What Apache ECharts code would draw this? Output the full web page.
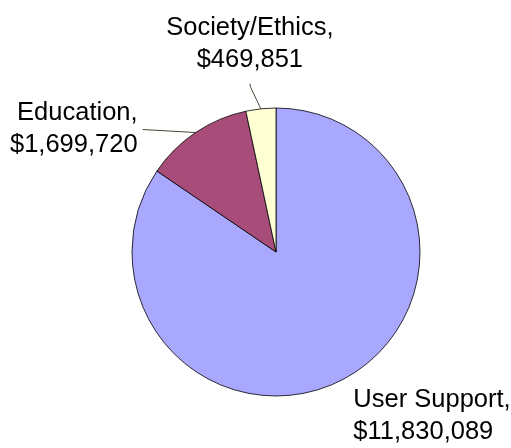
<!DOCTYPE html>
<html>
<head>
<meta charset="utf-8">
<script src="https://cdn.jsdelivr.net/npm/echarts@6/dist/echarts.min.js"></script>
<style>
  html, body { margin: 0; padding: 0; background: #fff; }
  #chart { width: 511px; height: 448px; }
</style>
</head>
<body>
<div id="chart"></div>
<script>
// Funding by area (US dollars)
const categories = ['User Support', 'Education', 'Society/Ethics'];
const amounts = [11830089, 1699720, 469851];

const sliceColors = ['#A7A8FE', '#A84C79', '#FFFFD4'];

// Where each label sits relative to the point where its leader leaves the slice edge
const labelPlacement = [
  { dx: 10, dy: 37, align: 'left', verticalAlign: 'middle', line: [] },
  { dx: -58, dy: -4, align: 'right', verticalAlign: 'middle', line: [[-53, -3]] },
  { dx: -11, dy: -33, align: 'center', verticalAlign: 'bottom', line: [[-10, -21], [-11, -25]] }
];

function money(v) {
  return '$' + v.toLocaleString('en-US');
}

const chart = echarts.init(document.getElementById('chart'), null, { renderer: 'canvas' });

chart.setOption({
  backgroundColor: '#ffffff',
  animation: false,
  series: [{
    type: 'pie',
    center: [276, 252],
    radius: 144,
    startAngle: 90,
    clockwise: true,
    avoidLabelOverlap: false,
    itemStyle: { borderColor: '#000', borderWidth: 0.8 },
    label: {
      show: true,
      position: 'outside',
      fontFamily: 'Liberation Sans, Arial, sans-serif',
      fontSize: 25.5,
      lineHeight: 32,
      color: '#000',
      formatter: p => p.name + ',\n' + money(p.value)
    },
    labelLine: {
      show: true,
      length: 10,
      length2: 10,
      smooth: false,
      lineStyle: { color: '#4a4a3a', width: 1 }
    },
    emphasis: { disabled: true },
    labelLayout: function (p) {
      const pts = p.labelLinePoints;
      if (!pts) return {};
      const a = pts[0];
      const cfg = labelPlacement[p.dataIndex];
      const line = [[a[0], a[1]]];
      cfg.line.forEach(o => line.push([a[0] + o[0], a[1] + o[1]]));
      while (line.length < 3) line.push(line[line.length - 1].slice());
      return {
        x: a[0] + cfg.dx,
        y: a[1] + cfg.dy,
        align: cfg.align,
        verticalAlign: cfg.verticalAlign,
        labelLinePoints: line
      };
    },
    data: categories.map((name, i) => ({
      name: name,
      value: amounts[i],
      itemStyle: { color: sliceColors[i] }
    }))
  }]
});
</script>
</body>
</html>
